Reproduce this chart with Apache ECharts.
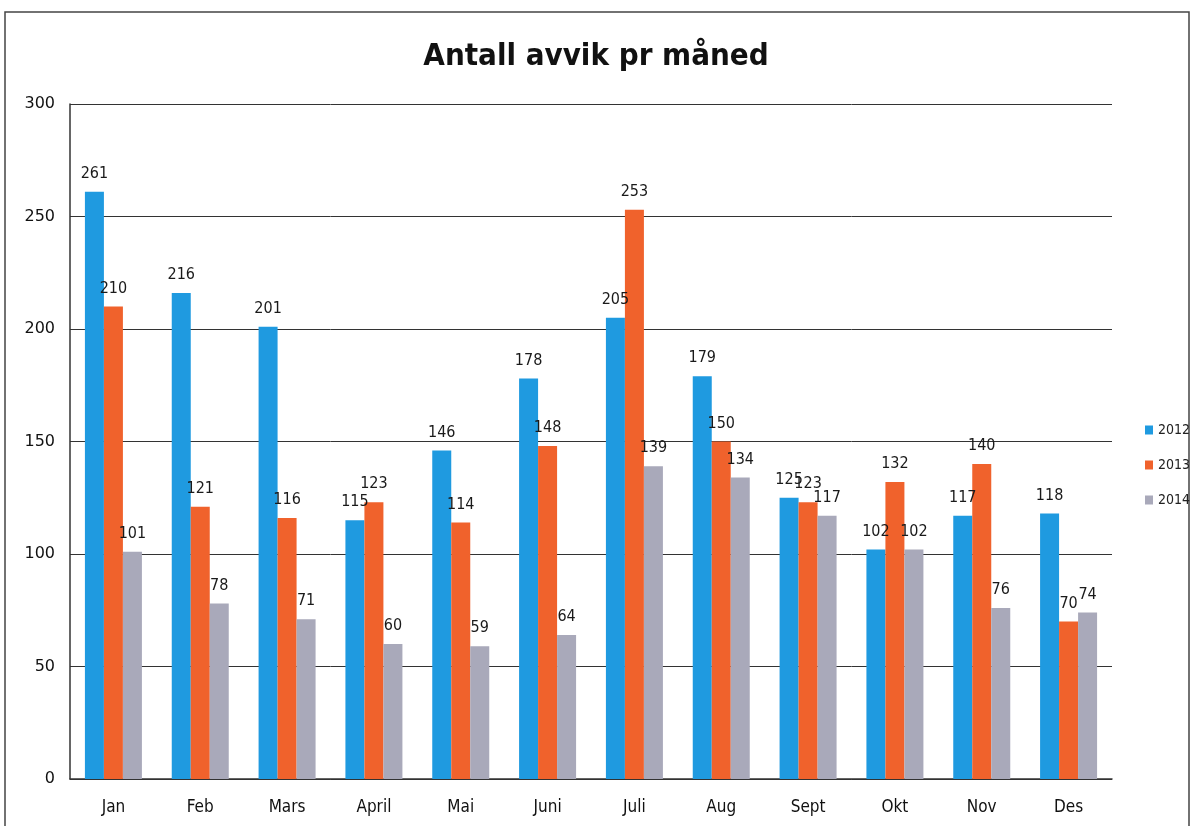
<!DOCTYPE html>
<html>
<head>
<meta charset="utf-8">
<script src="https://cdn.jsdelivr.net/npm/echarts@6/dist/echarts.min.js"></script>
<style>
  html, body { margin: 0; padding: 0; background: #fff; }
  #chart { width: 1192px; height: 826px; }
</style>
</head>
<body>
<div id="chart"></div>
<script>
// data
var months = ['Jan', 'Feb', 'Mars', 'April', 'Mai', 'Juni', 'Juli', 'Aug', 'Sept', 'Okt', 'Nov', 'Des'];
var years = ['2012', '2013', '2014'];
var data2012 = [261, 216, 201, 115, 146, 178, 205, 179, 125, 102, 117, 118];
var data2013 = [210, 121, 116, 123, 114, 148, 253, 150, 123, 132, 140, 70];
var data2014 = [101, 78, 71, 60, 59, 64, 139, 134, 117, 102, 76, 74];

var colors = ['#1f9ae0', '#f0622c', '#a9a9ba'];
var font = '"Liberation Sans Narrow", "DejaVu Sans Condensed", "Open Sans", sans-serif';

var chart = echarts.init(document.getElementById('chart'));

function barSeries(name, values, color) {
  return {
    name: name,
    type: 'bar',
    data: values,
    barWidth: 19,
    barGap: '0%',
    itemStyle: { color: color },
    label: {
      show: true,
      position: 'top',
      distance: 10,
      color: '#1a1a1a',
      fontSize: 16,
      fontFamily: font
    }
  };
}

chart.setOption({
  animation: false,
  color: colors,
  title: {
    text: 'Antall avvik pr måned',
    left: 'center',
    top: 36,
    textStyle: { fontSize: 31, fontWeight: 'bold', color: '#111', fontFamily: font }
  },
  legend: {
    data: years,
    orient: 'vertical',
    left: 1140,
    top: 418,
    itemWidth: 8,
    itemHeight: 9,
    itemGap: 21,
    icon: 'rect',
    textStyle: { fontSize: 14, color: '#222', fontFamily: font }
  },
  grid: { left: 70, right: 80, top: 104, bottom: 47 },
  xAxis: {
    type: 'category',
    data: months,
    axisTick: { show: false },
    axisLine: { lineStyle: { color: '#333', width: 1.5 } },
    axisLabel: { color: '#111', fontSize: 17, margin: 20, fontFamily: font }
  },
  yAxis: {
    type: 'value',
    min: 0,
    max: 300,
    interval: 50,
    axisLine: { show: true, lineStyle: { color: '#333', width: 1.5 } },
    axisTick: { show: false },
    splitLine: { lineStyle: { color: '#333', width: 1 } },
    axisLabel: { color: '#111', fontSize: 16, margin: 15, fontFamily: 'DejaVu Sans' }
  },
  graphic: [{
    type: 'rect',
    shape: { x: 5, y: 12, width: 1184, height: 830 },
    style: { fill: null, stroke: '#444', lineWidth: 1.5 },
    silent: true
  }],
  series: [
    barSeries(years[0], data2012, colors[0]),
    barSeries(years[1], data2013, colors[1]),
    barSeries(years[2], data2014, colors[2])
  ]
});
</script>
</body>
</html>
